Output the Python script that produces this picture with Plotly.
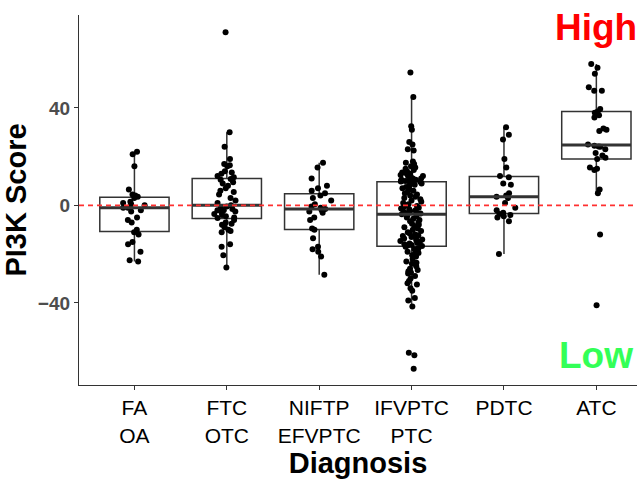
import numpy as np
import plotly.graph_objects as go

categories = ["FA<br>OA", "FTC<br>OTC", "NIFTP<br>EFVPTC", "IFVPTC<br>PTC", "PDTC", "ATC"]

FA = [-23, -22.5, -19, -16, -15, -12, -11, -10, -7, -6, -5, -2.5, -2, -1, -1, 0,
      0.5, 1, 1.5, 3, 3.5, 4, 4.5, 6.5, 16, 21, 22]

FTC = [71, 30, 24, 19, 17, 16.5, 16, 14, 13.5, 13, 12, 11.5, 10.8,
       10.5, 9.5, 9, 8, 7, 6, 5.5, 4.5, 3, 2, 1, 0,
       -0.5, -1, -1.5, -2, -2, -2.5, -3, -3.5, -4, -4.5, -5, -5.2,
       -6, -7, -7.5, -8, -9, -10, -10.5, -11, -16, -17, -20.5, -25.5]

NIFTP = [17.5, 15.5, 11, 8, 7, 6, 5, 4, 3, 2, 0.5, -0.5, -1, -1.5, -2, -2.5, -3,
         -5, -6, -9.5, -10, -13.5, -17, -18, -19, -21, -28.5]

IFVPTC = [54.5, 44.5, 32.5, 31, 26, 25, 23, 22.5, 18, 17.5, 17, 16, 15.5, 15, 14.5, 14,
          13.5, 13, 13, 12.5, 12, 12, 11.5, 11, 11, 10.5, 10.5, 10, 10, 10, 9.9, 9.8,
          9.7,
          9.5, 9, 8.5, 8, 7.5, 7, 6.5, 6, 5.5, 5, 4.5, 4, 3.5, 3, 2.5, 2, 1.5, 1, 0.5, 0,
          -0.3, -0.6, -1, -1.3, -1.6, -2, -2.3, -2.6, -2.9, -3.1, -3.3,
          -3.6,
          -4, -4.5, -5, -5.5, -6, -6.5, -7, -7.5, -8, -8.5, -9, -9.5, -10, -10.5, -11,
          -11.5, -12, -12.3, -12.6, -13, -13.3, -13.6, -14, -14.3, -14.6, -15, -15.3,
          -15.6, -16, -16.3, -16.5,
          -16.7,
          -17, -17.5, -18, -18.5, -19, -19.5, -20, -20.5, -21, -22, -23, -23.5, -24, -25,
          -26, -26.5, -27, -27.5, -28, -29, -30, -31, -32, -32.5, -34, -35, -38, -39,
          -41.5, -60.5, -61.5, -67]

PDTC = [32, 29, 27, 19, 15.5, 12, 11.5, 9, 8.5, 5, 4, 3.5, 3, 1, -1, -2, -3, -3.5,
        -4, -4.5, -5, -6.5, -20]

ATC = [58, 56.5, 54, 48.5, 47, 47, 39.5, 38.5, 38, 37, 36, 31.5, 31, 30.5, 25,
       24.5, 24.2, 24, 23, 21.5, 20.5, 19.5, 19, 15.5, 15, 14.5, 6.5, 5, -12, -41]

groups = [FA, FTC, NIFTP, IFVPTC, PDTC, ATC]
positions = list(range(1, len(categories) + 1))

y_ticks = [-40, 0, 40]
high_label = "High"
low_label = "Low"

BOX_W = 0.75
fig = go.Figure()

xs, ys = [], []
for p, g in zip(positions, groups):
    xs += [p] * len(g)
    ys += g

fig.add_trace(go.Box(
    x=xs, y=ys, width=BOX_W, boxpoints="all", jitter=0.38, pointpos=0,
    whiskerwidth=0, fillcolor="rgba(255,255,255,0)",
    line=dict(color="#333333", width=1.5),
    marker=dict(color="black", size=6, line=dict(width=0)),
    showlegend=False, hoverinfo="y",
))

# thicker median line like ggplot (computed from the data)
for p, g in zip(positions, groups):
    m = float(np.median(g))
    fig.add_trace(go.Scatter(
        x=[p - BOX_W / 2, p + BOX_W / 2], y=[m, m], mode="lines",
        line=dict(color="#333333", width=3), showlegend=False, hoverinfo="skip",
    ))

fig.add_hline(y=0, line=dict(color="#FF3030", width=1.6, dash="5px,4px"), layer="above")

fig.add_annotation(x=positions[-1], y=73, text=f"<b>{high_label}</b>", showarrow=False,
                   font=dict(family="Liberation Sans, Arial", size=37, color="#FF0000"),
                   xanchor="center", yanchor="middle")
fig.add_annotation(x=positions[-1], y=-61.5, text=f"<b>{low_label}</b>", showarrow=False,
                   font=dict(family="Liberation Sans, Arial", size=37, color="#33FF57"),
                   xanchor="center", yanchor="middle")

fig.update_layout(
    width=637, height=479,
    margin=dict(l=79, r=0, t=15, b=94),
    paper_bgcolor="white", plot_bgcolor="white",
    font=dict(family="Liberation Sans, Arial", color="black"),
    xaxis=dict(
        range=[0.4, 6.44], tickmode="array", tickvals=positions, ticktext=categories,
        showgrid=False, zeroline=False, showline=True, linecolor="#333333", linewidth=1.3,
        ticks="outside", ticklen=4, tickcolor="#333333", tickwidth=1.2,
        tickfont=dict(size=21, color="black"),
        title=dict(text="<b>Diagnosis</b>", font=dict(size=29, color="black"), standoff=0),
    ),
    yaxis=dict(
        range=[-73.7, 78.1], tickmode="array", tickvals=y_ticks,
        showgrid=False, zeroline=False, showline=True, linecolor="#333333", linewidth=1.3,
        ticks="outside", ticklen=4, tickcolor="#333333", tickwidth=1.2,
        tickfont=dict(size=19, color="#4D4D4D", weight="bold"),
        title=dict(text="<b>PI3K Score</b>", font=dict(size=29, color="black"), standoff=8),
    ),
)

fig.write_html("out.html")
